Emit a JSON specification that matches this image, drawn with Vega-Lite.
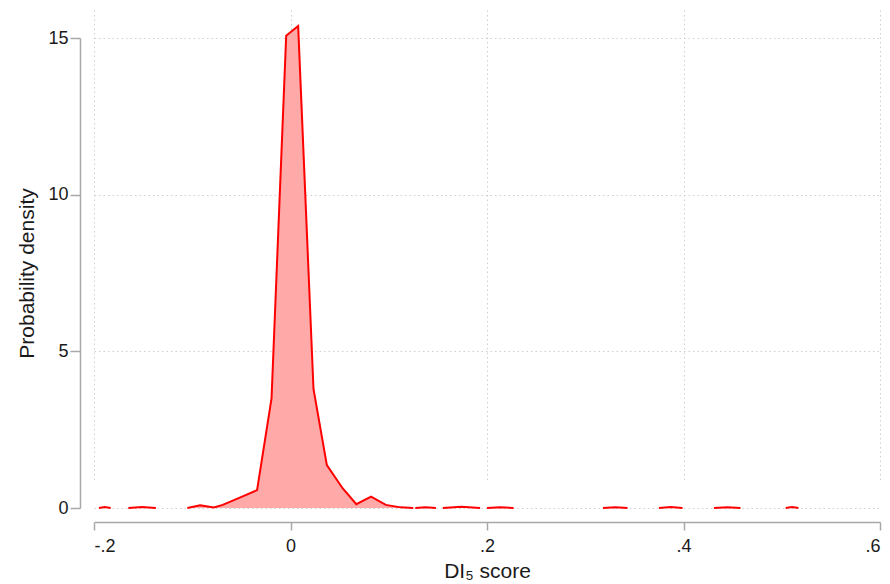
{
  "$schema": "https://vega.github.io/schema/vega-lite/v6.json",
  "autosize": {"type": "none"},
  "width": 805,
  "height": 498,
  "padding": {"left": 83, "top": 10, "right": 2, "bottom": 76},
  "background": "white",
  "config": {
    "view": {"stroke": null},
    "font": "Liberation Sans"
  },
  "data": {
    "values": [
      {"seg": "a", "x": -0.195, "y": 0},
      {"seg": "a", "x": -0.189, "y": 0.03},
      {"seg": "a", "x": -0.183, "y": 0},
      {"seg": "b", "x": -0.165, "y": 0},
      {"seg": "b", "x": -0.151, "y": 0.03},
      {"seg": "b", "x": -0.137, "y": 0},
      {"seg": "main", "x": -0.105, "y": 0},
      {"seg": "main", "x": -0.092, "y": 0.09},
      {"seg": "main", "x": -0.078, "y": 0.02},
      {"seg": "main", "x": -0.069, "y": 0.1},
      {"seg": "main", "x": -0.051, "y": 0.34},
      {"seg": "main", "x": -0.034, "y": 0.57},
      {"seg": "main", "x": -0.0193, "y": 3.5},
      {"seg": "main", "x": -0.0044, "y": 15.07},
      {"seg": "main", "x": 0.0078, "y": 15.38},
      {"seg": "main", "x": 0.0234, "y": 3.8},
      {"seg": "main", "x": 0.037, "y": 1.37},
      {"seg": "main", "x": 0.053, "y": 0.63},
      {"seg": "main", "x": 0.067, "y": 0.12},
      {"seg": "main", "x": 0.082, "y": 0.36},
      {"seg": "main", "x": 0.097, "y": 0.1},
      {"seg": "main", "x": 0.112, "y": 0.02},
      {"seg": "main", "x": 0.125, "y": 0},
      {"seg": "c", "x": 0.127, "y": 0},
      {"seg": "c", "x": 0.1375, "y": 0.025},
      {"seg": "c", "x": 0.148, "y": 0},
      {"seg": "d", "x": 0.155, "y": 0},
      {"seg": "d", "x": 0.174, "y": 0.04},
      {"seg": "d", "x": 0.193, "y": 0},
      {"seg": "e", "x": 0.200, "y": 0},
      {"seg": "e", "x": 0.2135, "y": 0.025},
      {"seg": "e", "x": 0.227, "y": 0},
      {"seg": "f", "x": 0.318, "y": 0},
      {"seg": "f", "x": 0.3305, "y": 0.025},
      {"seg": "f", "x": 0.343, "y": 0},
      {"seg": "g", "x": 0.375, "y": 0},
      {"seg": "g", "x": 0.387, "y": 0.03},
      {"seg": "g", "x": 0.399, "y": 0},
      {"seg": "h", "x": 0.431, "y": 0},
      {"seg": "h", "x": 0.4445, "y": 0.025},
      {"seg": "h", "x": 0.458, "y": 0},
      {"seg": "i", "x": 0.504, "y": 0},
      {"seg": "i", "x": 0.5105, "y": 0.03},
      {"seg": "i", "x": 0.517, "y": 0}
    ]
  },
  "encoding": {
    "x": {
      "field": "x",
      "type": "quantitative",
      "scale": {"domain": [-0.2, 0.6], "range": [11, 797], "nice": false, "zero": false},
      "axis": {
        "values": [-0.2, 0, 0.2, 0.4, 0.6],
        "labelExpr": "replace(replace(format(datum.value, '.1~f'), '0.', '.'), '\u2212', '-')",
        "title": "DI₅ score",
        "titleFont": "Liberation Sans",
        "titleFontSize": 21,
        "titleFontWeight": "normal",
        "titleColor": "#1a1a1a",
        "titlePadding": 5,
        "labelFont": "Liberation Sans",
        "labelFontSize": 18,
        "labelColor": "#1a1a1a",
        "labelPadding": 7,
        "offset": 14,
        "domainColor": "#a8a8a8",
        "domainWidth": 1.5,
        "tickColor": "#a8a8a8",
        "tickWidth": 1.5,
        "tickSize": 8,
        "grid": true,
        "gridColor": "#cfcfcf",
        "gridDash": [1.5, 3],
        "gridWidth": 1
      }
    },
    "y": {
      "field": "y",
      "type": "quantitative",
      "scale": {"domain": [0, 15], "range": [498, 28], "nice": false, "zero": false},
      "axis": {
        "values": [0, 5, 10, 15],
        "title": "Probability density",
        "titleFont": "Liberation Sans",
        "titleFontSize": 21,
        "titleFontWeight": "normal",
        "titleColor": "#1a1a1a",
        "titlePadding": 10,
        "labelFont": "Liberation Sans",
        "labelFontSize": 18,
        "labelColor": "#1a1a1a",
        "labelPadding": 2,
        "offset": 3,
        "domainColor": "#a8a8a8",
        "domainWidth": 1.5,
        "tickColor": "#a8a8a8",
        "tickWidth": 1.5,
        "tickSize": 10,
        "grid": true,
        "gridColor": "#cfcfcf",
        "gridDash": [1.5, 3],
        "gridWidth": 1
      }
    },
    "detail": {"field": "seg", "type": "nominal"}
  },
  "layer": [
    {"mark": {"type": "area", "color": "#ffa9a9", "opacity": 1}},
    {"mark": {"type": "line", "color": "#ff0000", "strokeWidth": 2}}
  ]
}
